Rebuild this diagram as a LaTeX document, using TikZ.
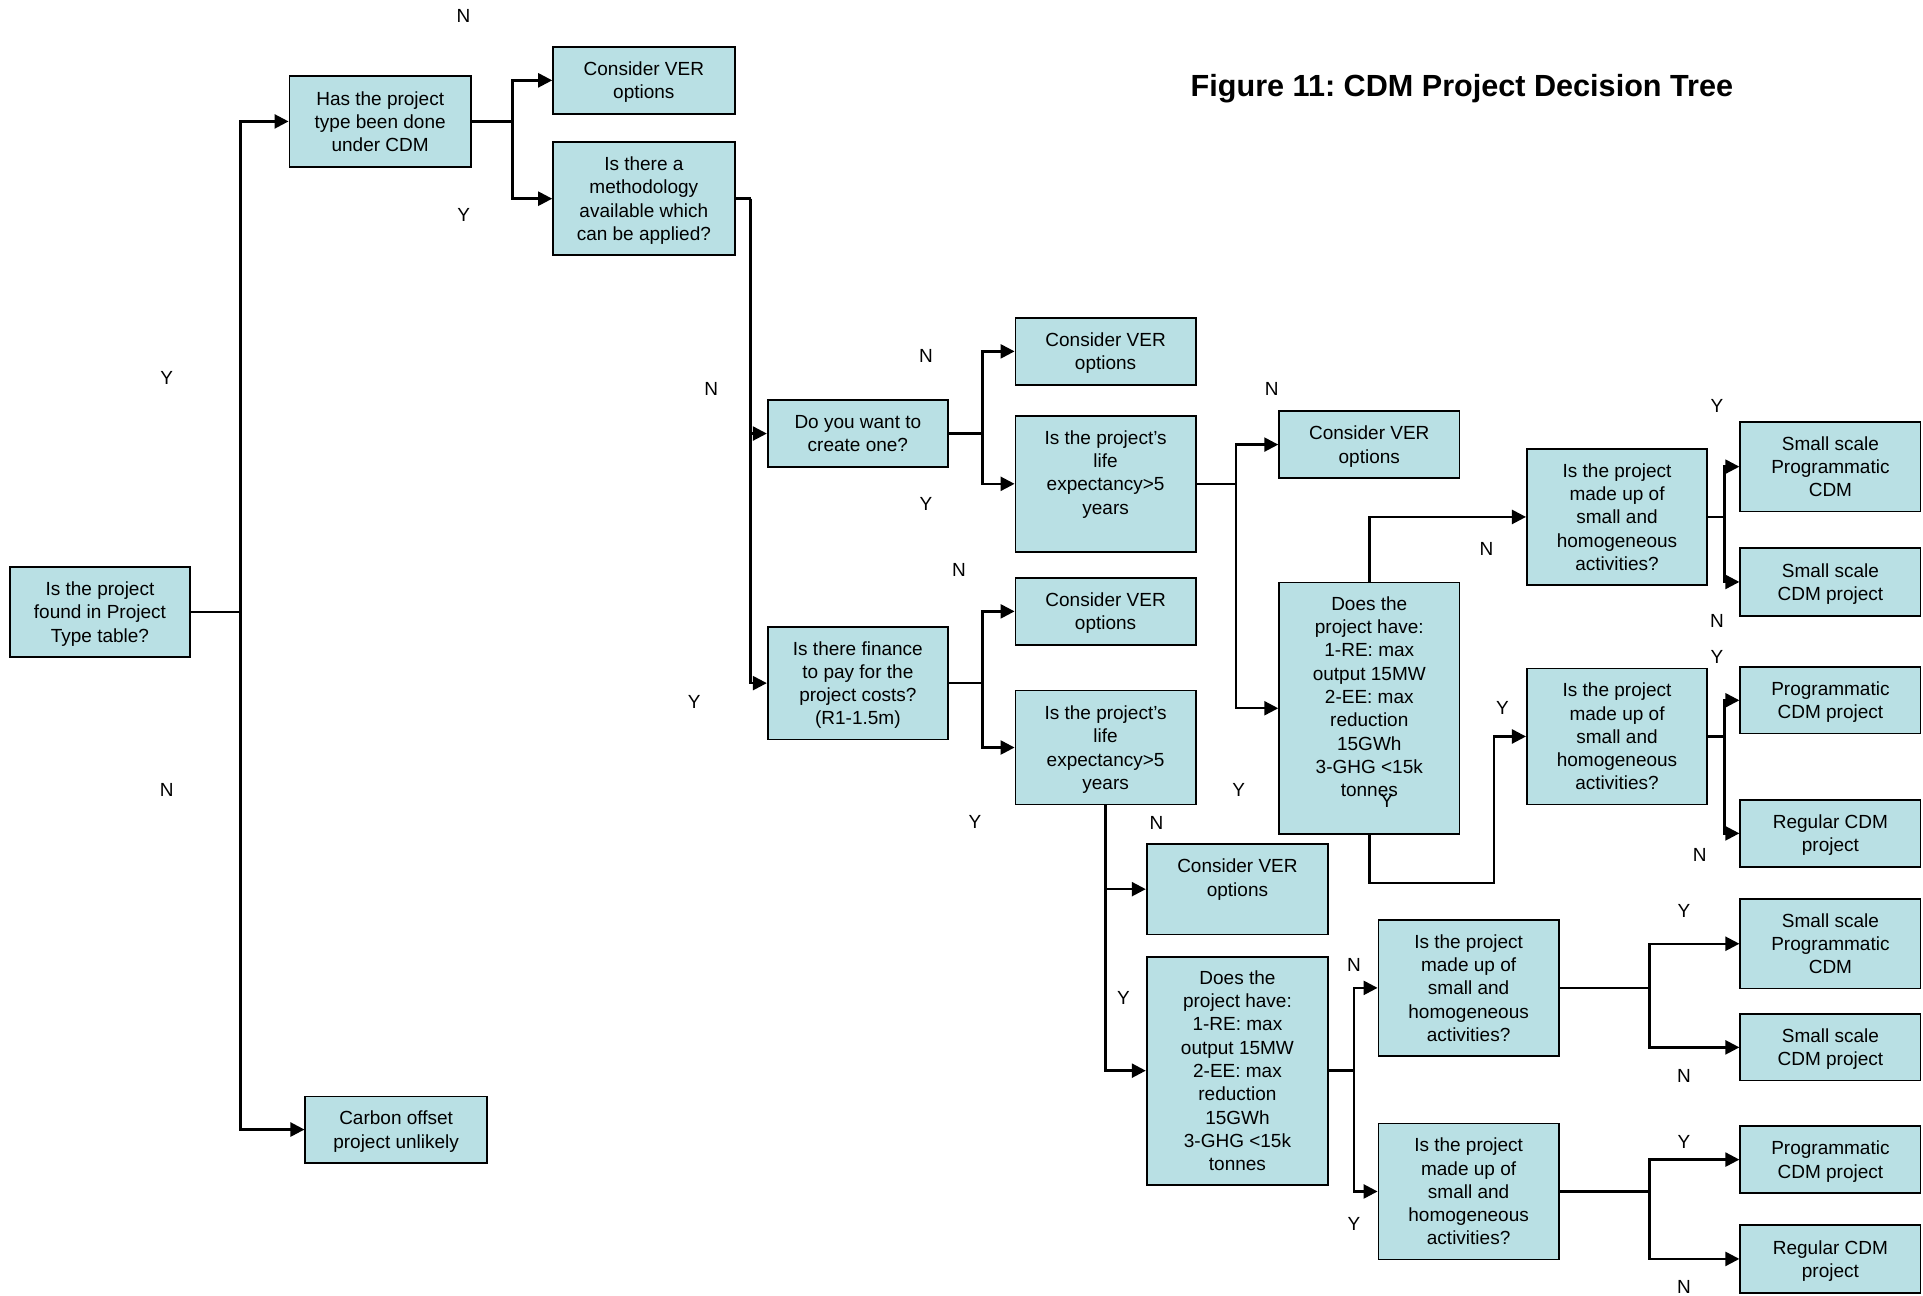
\documentclass[tikz,border=0pt]{standalone}
\usepackage{fontspec}
\setmainfont{Liberation Sans}
\usetikzlibrary{arrows.meta}
\definecolor{boxfill}{RGB}{185,224,228}
\begin{document}
\begin{tikzpicture}[x=0.6132pt,y=-0.6132pt,
  box/.style={draw=black, line width=0.9pt, fill=boxfill, align=center, inner sep=1pt,
              text depth=-1pt, font=\fontsize{9.5}{11.65}\selectfont},
  bw/.style={minimum width=#1*0.6132pt},
  bh/.style={minimum height=#1*0.6132pt},
  link/.style={line width=1.2pt},
  arr/.style={link, -{Triangle[length=7pt,width=7pt]}},
  yn/.style={font=\fontsize{9.5}{11.65}\selectfont, inner sep=0pt},
  title/.style={font=\fontsize{15.3}{18}\selectfont\bfseries\frenchspacing, inner sep=0pt}]
\useasboundingbox (0,0) rectangle (1568,1056);

\node[title] (ttl) at (1192,72.5) {Figure 11: CDM Project Decision Tree};

% decision boxes and outcomes
\node[box,bw=147,bh=74]  (root)    at (81.5,499)   {Is the project\\found in Project\\Type table?};
\node[box,bw=148,bh=74]  (hasdone) at (310,99)     {Has the project\\type been done\\under CDM};
\node[box,bw=148,bh=54]  (unl)     at (323,921)    {Carbon offset\\project unlikely};
\node[box,bw=148,bh=55]  (ver1)    at (525,65.5)   {Consider VER\\options};
\node[box,bw=148,bh=92]  (meth)    at (525,162)    {Is there a\\methodology\\available which\\can be applied?};
\node[box,bw=147,bh=55]  (create)  at (699.5,353.5){Do you want to\\create one?};
\node[box,bw=147,bh=92]  (fin)     at (699.5,557)  {Is there finance\\to pay for the\\project costs?\\(R1-1.5m)};
\node[box,bw=147,bh=55]  (ver2)    at (901.5,286.5){Consider VER\\options};
\node[box,bw=147,bh=111] (life1)   at (901.5,394.5){Is the project's\\life\\expectancy>5\\years\\\mbox{}};
\node[box,bw=147,bh=55]  (ver3)    at (1116.5,362.5){Consider VER\\options};
\node[box,bw=147,bh=205] (have1)   at (1116.5,577.5){Does the\\project have:\\1-RE: max\\output 15MW\\2-EE: max\\reduction\\15GWh\\3-GHG <15k\\tonnes\\\mbox{}};
\node[box,bw=147,bh=111] (sq1)     at (1318.5,421.5){Is the project\\made up of\\small and\\homogeneous\\activities?};
\node[box,bw=147,bh=111] (sq2)     at (1318.5,600.5){Is the project\\made up of\\small and\\homogeneous\\activities?};
\node[box,bw=147,bh=73]  (r1)      at (1492.5,380.5){Small scale\\Programmatic\\CDM};
\node[box,bw=147,bh=55]  (r2)      at (1492.5,474.5){Small scale\\CDM project};
\node[box,bw=147,bh=54]  (r3)      at (1492.5,571)  {Programmatic\\CDM project};
\node[box,bw=147,bh=55]  (r4)      at (1492.5,679.5){Regular CDM\\project};
\node[box,bw=147,bh=55]  (ver4)    at (901.5,498.5) {Consider VER\\options};
\node[box,bw=147,bh=93]  (life2)   at (901.5,609.5) {Is the project's\\life\\expectancy>5\\years};
\node[box,bw=148,bh=74]  (ver5)    at (1009,725)    {Consider VER\\options\\\mbox{}};
\node[box,bw=148,bh=186] (have2)   at (1009,873)    {Does the\\project have:\\1-RE: max\\output 15MW\\2-EE: max\\reduction\\15GWh\\3-GHG <15k\\tonnes};
\node[box,bw=147,bh=111] (sq3)     at (1197.5,805.5){Is the project\\made up of\\small and\\homogeneous\\activities?};
\node[box,bw=147,bh=111] (sq4)     at (1197.5,971.5){Is the project\\made up of\\small and\\homogeneous\\activities?};
\node[box,bw=147,bh=73]  (r5)      at (1492.5,769.5){Small scale\\Programmatic\\CDM};
\node[box,bw=147,bh=54]  (r6)      at (1492.5,854)  {Small scale\\CDM project};
\node[box,bw=147,bh=55]  (r7)      at (1492.5,945.5){Programmatic\\CDM project};
\node[box,bw=147,bh=55]  (r8)      at (1492.5,1026.5){Regular CDM\\project};

% branching points
\coordinate (j0)  at (196,499);
\coordinate (j1)  at (418,99);
\coordinate (j2)  at (612,162);
\coordinate (j3)  at (801,353.5);
\coordinate (j4)  at (1008,394.5);
\coordinate (j5)  at (1406,421.5);
\coordinate (j6)  at (1406,600.5);
\coordinate (j7)  at (801,557);
\coordinate (b1)  at (1218,720);
\coordinate (j9)  at (1104,873);
\coordinate (j10) at (1345,805.5);
\coordinate (j11) at (1345,971.5);

% connectors
\draw[link] (root.east) -- (j0);
\draw[arr] (j0) |- (hasdone.west);
\draw[arr] (j0) |- (unl.west);

\draw[link] (hasdone.east) -- (j1);
\draw[arr] (j1) |- (ver1.west);
\draw[arr] (j1) |- (meth.west);

\draw[link] (meth.east) -- (j2);
\draw[arr] (j2) |- (create.west);
\draw[arr] (j2) |- (fin.west);

\draw[link] (create.east) -- (j3);
\draw[arr] (j3) |- (ver2.west);
\draw[arr] (j3) |- (life1.west);

\draw[link] (life1.east) -- (j4);
\draw[arr] (j4) |- (ver3.west);
\draw[arr] (j4) |- (have1.west);

\draw[arr] (have1.north) |- (sq1.west);
\draw[arr] (have1.south) |- (b1) |- (sq2.west);

\draw[link] (sq1.east) -- (j5);
\draw[arr] (j5) |- (r1.west);
\draw[arr] (j5) |- (r2.west);

\draw[link] (sq2.east) -- (j6);
\draw[arr] (j6) |- (r3.west);
\draw[arr] (j6) |- (r4.west);

\draw[link] (fin.east) -- (j7);
\draw[arr] (j7) |- (ver4.west);
\draw[arr] (j7) |- (life2.west);

\draw[arr] (life2.south) |- (ver5.west);
\draw[arr] (life2.south) |- (have2.west);

\draw[link] (have2.east) -- (j9);
\draw[arr] (j9) |- (sq3.west);
\draw[arr] (j9) |- (sq4.west);

\draw[link] (sq3.east) -- (j10);
\draw[arr] (j10) |- (r5.west);
\draw[arr] (j10) |- (r6.west);

\draw[link] (sq4.east) -- (j11);
\draw[arr] (j11) |- (r7.west);
\draw[arr] (j11) |- (r8.west);

% Y / N labels
\node[yn] (l1)  at (378,13)    {N};
\node[yn] (l2)  at (378,175)   {Y};
\node[yn] (l3)  at (136,308)   {Y};
\node[yn] (l4)  at (136,644)   {N};
\node[yn] (l5)  at (580,317)   {N};
\node[yn] (l6)  at (566,572)   {Y};
\node[yn] (l7)  at (755,290)   {N};
\node[yn] (l8)  at (755,411)   {Y};
\node[yn] (l9)  at (1037,317)  {N};
\node[yn] (l10) at (1010,644)  {Y};
\node[yn] (l11) at (1131,653)  {Y};
\node[yn] (l12) at (1212,448)  {N};
\node[yn] (l13) at (1225,577)  {Y};
\node[yn] (l14) at (1400,331)  {Y};
\node[yn] (l15) at (1400,506)  {N};
\node[yn] (l16) at (1400,536)  {Y};
\node[yn] (l17) at (1386,697)  {N};
\node[yn] (l18) at (782,465)   {N};
\node[yn] (l19) at (795,670)   {Y};
\node[yn] (l20) at (943,671)   {N};
\node[yn] (l21) at (916,814)   {Y};
\node[yn] (l22) at (1104,787)  {N};
\node[yn] (l23) at (1104,998)  {Y};
\node[yn] (l24) at (1373,743)  {Y};
\node[yn] (l25) at (1373,877)  {N};
\node[yn] (l26) at (1373,931)  {Y};
\node[yn] (l27) at (1373,1049) {N};
\end{tikzpicture}
\end{document}
